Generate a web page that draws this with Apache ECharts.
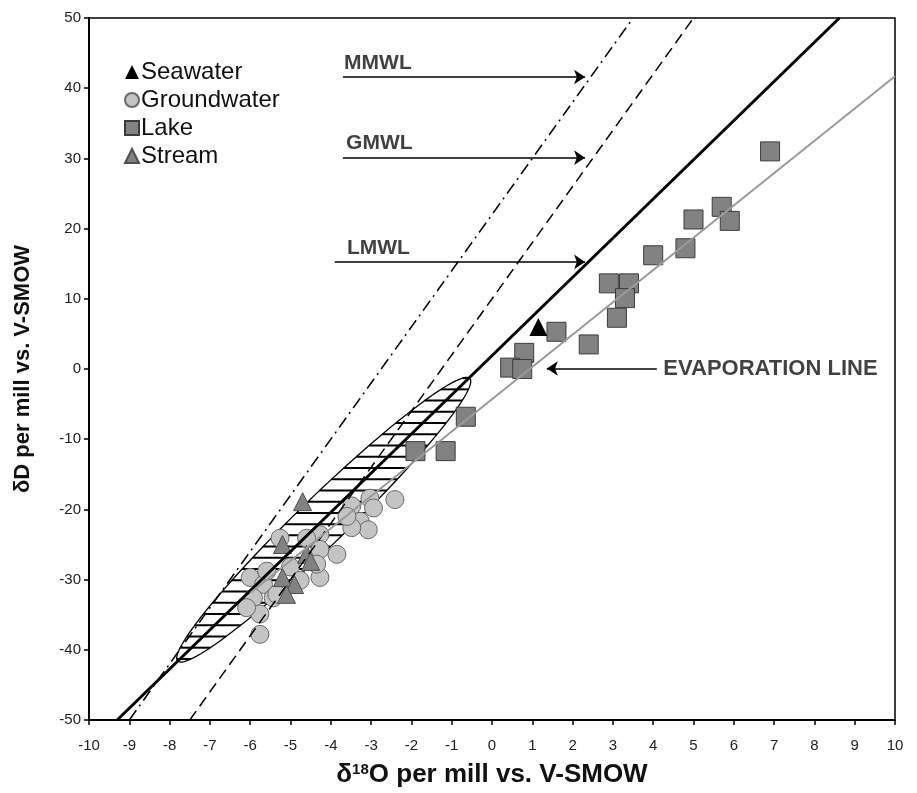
<!DOCTYPE html>
<html>
<head>
<meta charset="utf-8">
<script src="https://cdn.jsdelivr.net/npm/echarts@6/dist/echarts.min.js"></script>
<style>
  html, body { margin: 0; padding: 0; background: #fff; }
  #chart { width: 917px; height: 793px; }
</style>
</head>
<body>
<div id="chart"></div>
<script>
// sample points (δ18O, δD)
const seaX = [1.15];
const seaY = [6.0];

const groundX = [-2.41, -3.03, -2.94, -3.48, -3.27, -3.07, -3.48, -3.6, -4.27, -3.85, -4.27, -4.27, -4.35,
  -5.26, -6.0, -5.67, -5.92, -5.43, -5.76, -5.76, -6.09, -5.0, -4.76, -4.6, -5.59, -5.34];
const groundY = [-18.6, -18.4, -19.8, -19.5, -21.7, -22.9, -22.6, -21.0, -23.6, -26.4, -25.7, -29.7, -27.8,
  -24.1, -29.7, -30.7, -32.6, -32.6, -34.9, -37.8, -34.0, -28.2, -30.1, -24.1, -28.8, -32.1];

const lakeX = [6.9, 5.7, 5.9, 5.0, 4.8, 4.0, 2.9, 3.4, 3.3, 3.1, 2.4, 1.6, 0.8, 0.45, 0.75, -0.65, -1.9, -1.15];
const lakeY = [31.0, 23.1, 21.1, 21.3, 17.2, 16.2, 12.2, 12.2, 10.1, 7.3, 3.5, 5.3, 2.3, 0.2, 0.0, -6.8, -11.7, -11.7];

const streamX = [-4.7, -5.2, -4.6, -5.2, -4.9, -4.5, -5.1];
const streamY = [-18.9, -25.0, -26.4, -29.7, -30.7, -27.4, -32.1];

// water lines: dD = slope * d18O + intercept
const lineNames = ['MMWL', 'GMWL', 'LMWL', 'EVAPORATION'];
const lineSlopes = [8, 8, 5.58, 4.6];
const lineIntercepts = [22, 10, 1.9, -4.3];
const lineStartX = [null, null, null, -6.0]; // null = from the bottom of the plot

// arrows and their captions
const arrowFrom = [[-3.7, 41.6], [-3.7, 30.1], [-3.9, 15.25], [4.09, 0.07]];
const arrowTo = [[2.31, 41.6], [2.31, 30.1], [2.31, 15.25], [1.36, 0.07]];
const noteText = ['MMWL', 'GMWL', 'LMWL', 'EVAPORATION LINE'];
const noteX = [-3.67, -3.62, -3.6, 4.25];
const noteY = [43.5, 32.1, 17.2, 0.07];

// hatched envelope around the LMWL (its two tips)
const envelopeEnds = [[-7.8, -41.6], [-0.55, -1.35]];

const xTicks = { min: -10, max: 10, step: 1 };
const yTicks = { min: -50, max: 50, step: 10 };

const chart = echarts.init(document.getElementById('chart'));
const FONT = "'Liberation Sans', Arial, sans-serif";

function pairs(xs, ys) {
  return xs.map((x, i) => [x, ys[i]]);
}

// end points of each water line inside the plot box
function lineData(i) {
  const m = lineSlopes[i], c = lineIntercepts[i];
  let x1 = lineStartX[i] != null ? lineStartX[i] : (yTicks.min - c) / m;
  let x2 = (yTicks.max - c) / m;
  x1 = Math.max(x1, xTicks.min);
  x2 = Math.min(x2, xTicks.max);
  return [[x1, m * x1 + c], [x2, m * x2 + c]];
}

const lineStyles = [
  { color: '#000', width: 1.5, type: [12, 5, 2, 5] },
  { color: '#000', width: 1.5, type: [11, 6] },
  { color: '#000', width: 3, type: 'solid' },
  { color: '#9a9a9a', width: 2, type: 'solid' }
];

// envelope: ellipse drawn in pixel space between the two tips, hatched with horizontal strokes
function renderEnvelope(params, api) {
  const p1 = api.coord(envelopeEnds[0]);
  const p2 = api.coord(envelopeEnds[1]);
  const cx = (p1[0] + p2[0]) / 2, cy = (p1[1] + p2[1]) / 2;
  const a = Math.hypot(p2[0] - p1[0], p2[1] - p1[1]) / 2;
  const b = 24;
  const th = Math.atan2(p2[1] - p1[1], p2[0] - p1[0]);
  const c = Math.cos(th), s = Math.sin(th);
  const outline = [];
  for (let i = 0; i <= 120; i++) {
    const t = Math.PI * 2 * i / 120;
    outline.push([cx + a * Math.cos(t) * c - b * Math.sin(t) * s,
                  cy + a * Math.cos(t) * s + b * Math.sin(t) * c]);
  }
  const children = [];
  const A = c * c / (a * a) + s * s / (b * b);
  for (let yv = -14.1 - 1.6 * 18; yv < 0; yv += 1.6) {
    const py = api.coord([0, yv])[1];
    const dy = py - cy;
    const B = 2 * dy * (c * s / (a * a) - s * c / (b * b));
    const C = dy * dy * (s * s / (a * a) + c * c / (b * b)) - 1;
    const disc = B * B - 4 * A * C;
    if (disc <= 0) continue;
    const r = Math.sqrt(disc);
    children.push({
      type: 'line',
      shape: { x1: cx + (-B - r) / (2 * A), y1: py, x2: cx + (-B + r) / (2 * A), y2: py },
      style: { stroke: '#000', lineWidth: 2 }
    });
  }
  children.push({
    type: 'polygon',
    shape: { points: outline },
    style: { fill: 'none', stroke: '#000', lineWidth: 1.3 }
  });
  return { type: 'group', children: children };
}

const option = {
  backgroundColor: '#fff',
  animation: false,
  textStyle: { fontFamily: FONT },
  grid: { left: 89, right: 22, top: 18, bottom: 71, show: true, borderColor: '#000', borderWidth: 1.5 },
  legend: {
    orient: 'vertical',
    left: 119,
    top: 55,
    itemWidth: 14,
    itemHeight: 14,
    itemGap: 4,
    textStyle: { fontSize: 24, color: '#111', fontFamily: FONT, padding: [0, 0, 0, -3] },
    data: ['Seawater', 'Groundwater', 'Lake', 'Stream']
  },
  xAxis: {
    type: 'value',
    min: xTicks.min,
    max: xTicks.max,
    interval: xTicks.step,
    splitLine: { show: false },
    axisLine: { onZero: false, lineStyle: { color: '#000', width: 2 } },
    axisTick: { length: 5, lineStyle: { color: '#000', width: 1.5 } },
    axisLabel: { fontSize: 15, color: '#222', margin: 18, fontFamily: FONT },
    name: '{a|δ}{s|18}{a|O per mill vs. V-SMOW}',
    nameLocation: 'middle',
    nameGap: 42,
    nameTextStyle: {
      rich: {
        a: { fontSize: 26, fontWeight: 'bold', color: '#111', fontFamily: FONT },
        s: { fontSize: 15, fontWeight: 'bold', color: '#111', fontFamily: FONT, verticalAlign: 'top', padding: [0, 0, 10, 0] }
      }
    }
  },
  yAxis: {
    type: 'value',
    min: yTicks.min,
    max: yTicks.max,
    interval: yTicks.step,
    splitLine: { show: false },
    axisLine: { onZero: false, lineStyle: { color: '#000', width: 2 } },
    axisTick: { length: 5, lineStyle: { color: '#000', width: 1.5 } },
    axisLabel: { fontSize: 15, color: '#222', margin: 8, fontFamily: FONT },
    name: 'δD per mill vs. V-SMOW',
    nameLocation: 'middle',
    nameRotate: 90,
    nameGap: 55,
    nameTextStyle: { fontSize: 22, fontWeight: 'bold', color: '#111', fontFamily: FONT }
  },
  series: [
    {
      name: 'Groundwater',
      type: 'scatter',
      symbol: 'circle',
      symbolSize: 18,
      data: pairs(groundX, groundY),
      itemStyle: { color: '#c4c4c4', borderColor: '#6a6a6a', borderWidth: 1, opacity: 1 }
    },
    {
      name: 'Stream',
      type: 'scatter',
      symbol: 'triangle',
      symbolSize: 18,
      data: pairs(streamX, streamY),
      itemStyle: { color: '#828282', borderColor: '#505050', borderWidth: 1, opacity: 1 }
    },
    {
      name: 'envelope',
      type: 'custom',
      renderItem: renderEnvelope,
      data: [envelopeEnds[0]],
      silent: true
    }
  ].concat(lineNames.map((n, i) => ({
    name: n,
    type: 'line',
    data: lineData(i),
    showSymbol: false,
    symbol: 'none',
    lineStyle: lineStyles[i],
    silent: true
  }))).concat([
    {
      name: 'Lake',
      type: 'scatter',
      symbol: 'rect',
      symbolSize: 19,
      data: pairs(lakeX, lakeY),
      itemStyle: { color: '#828282', borderColor: '#3d3d3d', borderWidth: 1, opacity: 1 }
    },
    {
      name: 'Seawater',
      type: 'scatter',
      symbol: 'triangle',
      symbolSize: 18,
      data: pairs(seaX, seaY),
      itemStyle: { color: '#000', opacity: 1 }
    },
    {
      name: 'arrows',
      type: 'lines',
      coordinateSystem: 'cartesian2d',
      symbol: ['none', 'arrow'],
      symbolSize: 11,
      lineStyle: { color: '#000', width: 1.5, opacity: 1, curveness: 0 },
      data: arrowFrom.map((f, i) => ({ coords: [f, arrowTo[i]] })),
      silent: true
    },
    {
      name: 'notes',
      type: 'scatter',
      symbolSize: 0,
      data: noteText.map((t, i) => ({ name: t, value: [noteX[i], noteY[i]] })),
      label: {
        show: true,
        position: 'right',
        distance: 0,
        formatter: '{b}',
        fontSize: 21,
        fontWeight: 'bold',
        color: '#111',
        fontFamily: FONT
      },
      silent: true
    }
  ])
};

// the evaporation caption is a little larger than the line names
option.series[option.series.length - 1].data[3].label = { fontSize: 22 };

chart.setOption(option);
</script>
</body>
</html>
